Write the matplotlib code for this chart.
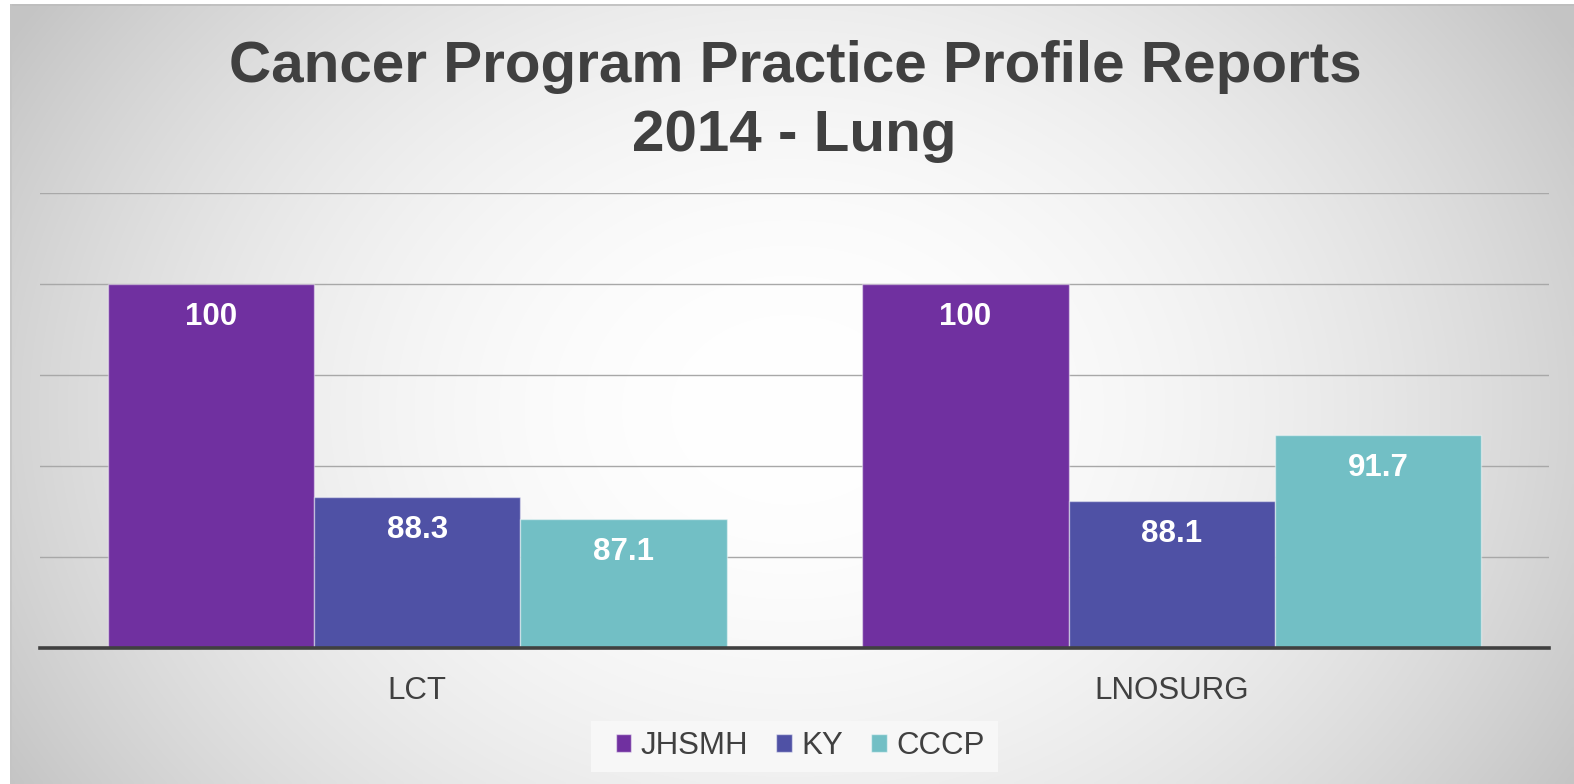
import numpy as np
import matplotlib
matplotlib.use("Agg")
import matplotlib.pyplot as plt
from matplotlib.patches import Patch, Rectangle

# ---- data ----
categories = ["LCT", "LNOSURG"]
series_names = ["JHSMH", "KY", "CCCP"]
jhsmh = [100, 100]
ky = [88.3, 88.1]
cccp = [87.1, 91.7]
title_lines = ["Cancer Program Practice Profile Reports", "2014 - Lung"]

colors = ["#7030A0", "#4F51A5", "#72BFC5"]
text_color = "#404040"

W, H = 1574, 784
DPI = 100
plt.rcParams['font.family'] = ['Liberation Sans', 'DejaVu Sans']

fig = plt.figure(figsize=(W / DPI, H / DPI), dpi=DPI)
fig.patch.set_facecolor("white")

# background radial gradient (chart area)
bg_ax = fig.add_axes([10 / W, 0, 1 - 10 / W, 780 / H])
bg_ax.set_axis_off()
gx = np.linspace(10, W, 400)
gy = np.linspace(4, H, 220)
X, Y = np.meshgrid(gx, gy)
r2 = ((X - 790) / 850) ** 2 + ((Y - 410) / 680) ** 2
val = 1.0 - 0.2 * r2
val = np.clip(val, 0.77, 1.0)
img = np.dstack([val, val, val])
bg_ax.imshow(img, aspect="auto", extent=[0, 1, 0, 1], origin="upper", interpolation="bilinear")
bg_ax.set_xlim(0, 1)
bg_ax.set_ylim(0, 1)
bg_ax.plot([0, 1], [0.999, 0.999], color="#bdbdbd", lw=1.2, transform=bg_ax.transAxes)
bg_ax.plot([0.0005, 0.0005], [0, 1], color="#c4c4c4", lw=1.2, transform=bg_ax.transAxes)

# main axes
left, right = 40, 1549
base_y, top_y = 648, 193
ax = fig.add_axes([left / W, (H - base_y) / H, (right - left) / W, (base_y - top_y) / H])
ax.patch.set_alpha(0)
ax.set_xlim(-0.5, len(categories) - 0.5)
ax.set_ylim(80, 105)
ax.set_yticks([85, 90, 95, 100, 105])
ax.yaxis.grid(True, color="#a8a8a8", lw=1.0)
ax.set_axisbelow(True)
for s in ["top", "right", "left"]:
    ax.spines[s].set_visible(False)
ax.spines["bottom"].set_color(text_color)
ax.spines["bottom"].set_linewidth(2.6)
ax.tick_params(axis="y", length=0, labelleft=False)
ax.tick_params(axis="x", length=0, pad=20, labelsize=22.5, labelcolor=text_color)

x = np.arange(len(categories))
bw = 0.2735
all_series = [jhsmh, ky, cccp]
for i, (vals, c, name) in enumerate(zip(all_series, colors, series_names)):
    xs = x + (i - 1) * bw
    ax.bar(xs, np.array(vals) - 80, bottom=80, width=bw, color=c,
           edgecolor=(1, 1, 1, 0.45), linewidth=1.0, label=name, zorder=2)
    for xi, v in zip(xs, vals):
        ax.annotate(f"{v:g}", xy=(xi, v), xytext=(0, -24), textcoords="offset points",
                    ha="center", va="center", color="white", fontsize=22.5,
                    fontweight="bold", zorder=3)

ax.set_xticks(x)
ax.set_xticklabels(categories)

# title
fig.text(795 / W, 1 - 82 / H, title_lines[0], ha="center", va="baseline",
         fontsize=42, fontweight="bold", color=text_color)
fig.text(794 / W, 1 - 151 / H, title_lines[1], ha="center", va="baseline",
         fontsize=42, fontweight="bold", color=text_color)

# legend background box
fig.patches.append(Rectangle((591 / W, 1 - 772 / H), (998 - 591) / W, 51 / H,
                             transform=fig.transFigure, facecolor="#f7f7f7",
                             edgecolor="none", zorder=1))

# legend
handles = [Patch(facecolor=c, edgecolor=(1, 1, 1, 0.5), label=n) for c, n in zip(colors, series_names)]
leg = fig.legend(handles=handles, loc="center", bbox_to_anchor=(800 / W, 1 - 746 / H),
                 ncol=3, frameon=False, fontsize=22.5, handlelength=0.5, handleheight=0.5,
                 handletextpad=0.3, columnspacing=0.9, borderpad=0.35, borderaxespad=0)
for t in leg.get_texts():
    t.set_color(text_color)

fig.savefig("out.png", dpi=DPI)
